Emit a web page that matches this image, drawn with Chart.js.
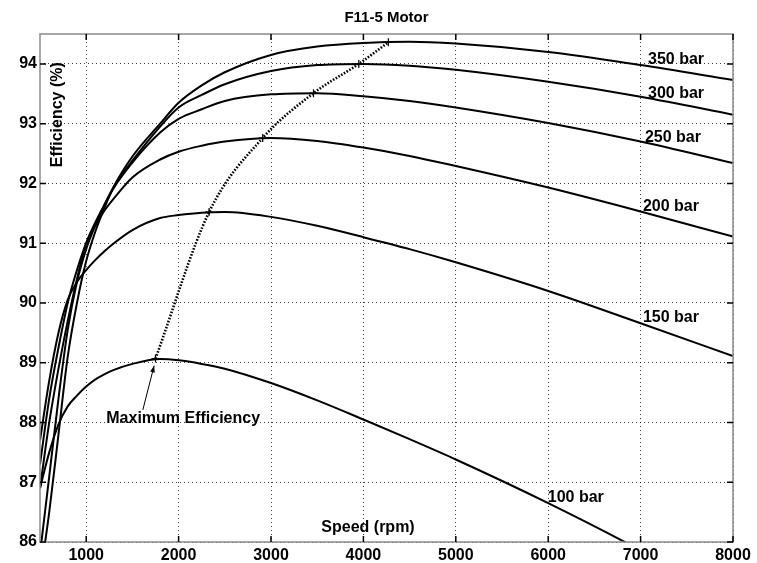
<!DOCTYPE html>
<html>
<head>
<meta charset="utf-8">
<script src="https://cdn.jsdelivr.net/npm/chart.js@4.4.0/dist/chart.umd.min.js"></script>
<style>
  html, body { margin: 0; padding: 0; background: #fff; }
  #wrap { width: 757px; height: 563px; }
</style>
</head>
<body>
<div id="wrap"><canvas id="motorChart"></canvas></div>
<script>
// speed points (rpm), efficiencies
const speedRpm = [500, 600, 700, 800, 900, 1000, 1100, 1200, 1300, 1500, 1800, 2000, 2250, 2500, 3000, 3500, 4000, 4500, 5000, 6000, 7000, 8000];
const eff350 = [85.4, 86.5, 87.8, 89.1, 90.0, 90.7, 91.2, 91.6, 91.95, 92.45, 93.0, 93.35, 93.64, 93.86, 94.15, 94.29, 94.35, 94.37, 94.34, 94.2, 93.98, 93.73];
const eff300 = [85.8, 87.1, 88.4, 89.55, 90.35, 90.9, 91.3, 91.65, 91.95, 92.38, 92.95, 93.27, 93.48, 93.66, 93.88, 93.98, 94.0, 93.97, 93.9, 93.7, 93.45, 93.15];
const eff250 = [86.9, 88.0, 88.9, 89.7, 90.4, 91.0, 91.35, 91.65, 91.93, 92.35, 92.85, 93.08, 93.24, 93.38, 93.49, 93.51, 93.46, 93.38, 93.27, 93.01, 92.70, 92.34];
const eff200 = [87.3, 88.4, 89.25, 90.0, 90.55, 91.0, 91.3, 91.55, 91.75, 92.1, 92.4, 92.53, 92.63, 92.7, 92.76, 92.71, 92.6, 92.46, 92.29, 91.93, 91.53, 91.11];
const eff150 = [87.7, 88.7, 89.5, 90.05, 90.35, 90.55, 90.72, 90.87, 91.0, 91.22, 91.42, 91.47, 91.51, 91.52, 91.44, 91.29, 91.1, 90.9, 90.68, 90.2, 89.66, 89.11];
const eff100 = [86.9, 87.5, 87.97, 88.27, 88.45, 88.6, 88.72, 88.81, 88.88, 88.98, 89.06, 89.04, 88.98, 88.9, 88.66, 88.37, 88.05, 87.72, 87.38, 86.65, 85.86, 85.0];

// maximum efficiency locus (one point per pressure)
const maxEffRpm = [1750, 2330, 2910, 3460, 3950, 4270];
const maxEffValue = [89.07, 91.52, 92.76, 93.51, 94.0, 94.36];

const pressureNames = ['350 bar', '300 bar', '250 bar', '200 bar', '150 bar', '100 bar'];
const xTickValues = [1000, 2000, 3000, 4000, 5000, 6000, 7000, 8000];
const yTickValues = [86, 87, 88, 89, 90, 91, 92, 93, 94];

const FONT = '"Liberation Sans", Arial, Helvetica, sans-serif';

function toPoints(xs, ys) {
    return xs.map((v, i) => ({ x: v, y: ys[i] }));
}

function curve(label, values) {
    return {
        label: label,
        data: toPoints(speedRpm, values),
        borderColor: '#000',
        borderWidth: 2,
        pointRadius: 0,
        cubicInterpolationMode: 'monotone',
        fill: false
    };
}

// where the text labels sit, in data units (rpm, %)
const curveLabelAt = [
    [7080, 94.07], [7080, 93.51], [7047, 92.77], [7025, 91.62], [7025, 89.75], [5995, 86.74]
];

const overlayPlugin = {
    id: 'overlay',
    afterDatasetsDraw(chart) {
        const { ctx, chartArea: a, scales: { x, y } } = chart;
        ctx.save();

        // frame
        ctx.strokeStyle = '#8a8a8a';
        ctx.lineWidth = 1.5;
        ctx.strokeRect(a.left, a.top, a.right - a.left, a.bottom - a.top);

        // MATLAB style inward ticks
        ctx.strokeStyle = '#000';
        ctx.lineWidth = 1.5;
        ctx.beginPath();
        xTickValues.forEach(v => {
            const px = x.getPixelForValue(v);
            ctx.moveTo(px, a.bottom); ctx.lineTo(px, a.bottom - 6);
            ctx.moveTo(px, a.top); ctx.lineTo(px, a.top + 6);
        });
        yTickValues.forEach(v => {
            const py = y.getPixelForValue(v);
            ctx.moveTo(a.left, py); ctx.lineTo(a.left + 6, py);
            ctx.moveTo(a.right, py); ctx.lineTo(a.right - 6, py);
        });
        ctx.stroke();

        ctx.fillStyle = '#000';
        ctx.font = 'bold 16px ' + FONT;
        ctx.textAlign = 'left';
        ctx.textBaseline = 'middle';

        pressureNames.forEach((name, i) => {
            const [rx, ry] = curveLabelAt[i];
            ctx.fillText(name, x.getPixelForValue(rx), y.getPixelForValue(ry));
        });

        ctx.fillText('Maximum Efficiency', x.getPixelForValue(1217), y.getPixelForValue(88.07));
        ctx.fillText('Speed (rpm)', x.getPixelForValue(3545), y.getPixelForValue(86.24));

        // y axis title, inside the plot
        ctx.save();
        ctx.translate(x.getPixelForValue(690), y.getPixelForValue(93.15));
        ctx.rotate(-Math.PI / 2);
        ctx.textAlign = 'center';
        ctx.fillText('Efficiency (%)', 0, 0);
        ctx.restore();

        // arrow to the 100 bar peak
        const x0 = x.getPixelForValue(1613), y0 = y.getPixelForValue(88.21);
        const x1 = x.getPixelForValue(1735), y1 = y.getPixelForValue(88.95);
        const ang = Math.atan2(y1 - y0, x1 - x0);
        ctx.lineWidth = 1;
        ctx.beginPath();
        ctx.moveTo(x0, y0);
        ctx.lineTo(x1, y1);
        ctx.stroke();
        ctx.beginPath();
        ctx.moveTo(x1, y1);
        ctx.lineTo(x1 - 7 * Math.cos(ang - 0.35), y1 - 7 * Math.sin(ang - 0.35));
        ctx.lineTo(x1 - 7 * Math.cos(ang + 0.35), y1 - 7 * Math.sin(ang + 0.35));
        ctx.closePath();
        ctx.fill();

        ctx.restore();
    }
};

const ctx = document.getElementById('motorChart').getContext('2d');
const motorChart = new Chart(ctx, {
    type: 'line',
    data: {
        datasets: [
            curve('350 bar', eff350),
            curve('300 bar', eff300),
            curve('250 bar', eff250),
            curve('200 bar', eff200),
            curve('150 bar', eff150),
            curve('100 bar', eff100),
            {
                label: 'Maximum Efficiency',
                data: toPoints(maxEffRpm, maxEffValue),
                borderColor: '#000',
                borderWidth: 2.6,
                borderDash: [1.6, 1.6],
                cubicInterpolationMode: 'monotone',
                pointStyle: 'cross',
                pointRadius: 4,
                pointBorderWidth: 1.2,
                pointBorderColor: '#000',
                fill: false
            }
        ]
    },
    options: {
        responsive: true,
        maintainAspectRatio: false,
        animation: false,
        devicePixelRatio: 1,
        layout: { padding: { left: 0, right: 24, top: 0, bottom: 0 } },
        scales: {
            x: {
                type: 'linear',
                min: 500,
                max: 8000,
                afterBuildTicks: scale => { scale.ticks = xTickValues.map(v => ({ value: v })); },
                afterFit: scale => { scale.height = 21; },
                grid: { color: 'rgba(0,0,0,0.75)', lineWidth: 1, drawTicks: false },
                border: { display: false, dash: [1, 3] },
                ticks: {
                    color: '#000',
                    padding: 4,
                    maxRotation: 0,
                    callback: v => String(v),
                    font: { family: FONT, size: 16, weight: 'bold' }
                }
            },
            y: {
                min: 86,
                max: 94.5,
                afterBuildTicks: scale => { scale.ticks = yTickValues.map(v => ({ value: v })); },
                afterFit: scale => { scale.width = 40; },
                grid: { color: 'rgba(0,0,0,0.75)', lineWidth: 1, drawTicks: false },
                border: { display: false, dash: [1, 3] },
                ticks: {
                    color: '#000',
                    padding: 3,
                    callback: v => String(v),
                    font: { family: FONT, size: 16, weight: 'bold' }
                }
            }
        },
        plugins: {
            legend: { display: false },
            tooltip: { enabled: false },
            title: {
                display: true,
                text: 'F11-5 Motor',
                fullSize: false,
                color: '#000',
                font: { family: FONT, size: 15, weight: 'bold', lineHeight: 1.2 },
                padding: { top: 9, bottom: 7 }
            }
        }
    },
    plugins: [overlayPlugin]
});
</script>
</body>
</html>
